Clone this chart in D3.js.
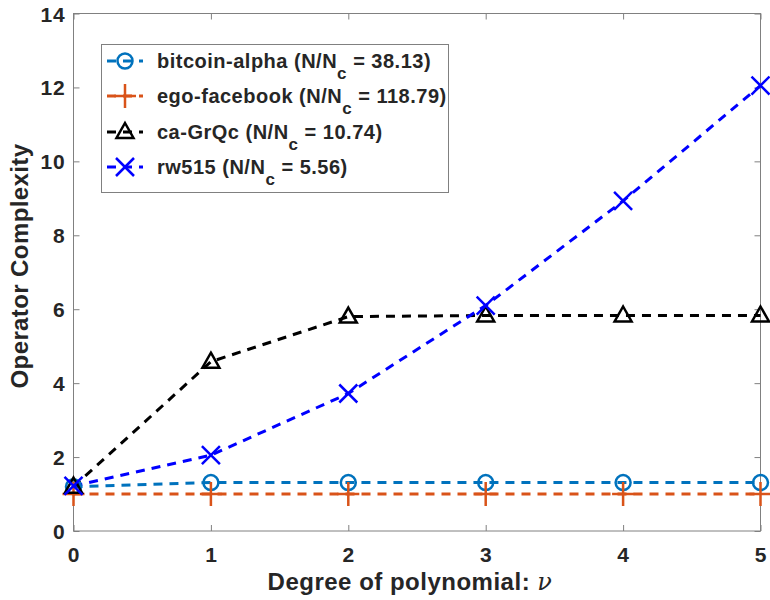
<!DOCTYPE html>
<html><head><meta charset="utf-8">
<script src="https://cdn.jsdelivr.net/npm/d3@7"></script>
<style>body{margin:0;background:#fff}svg{font-family:"Liberation Sans",Arial,sans-serif;font-weight:bold}</style>
</head><body>
<svg id="c" width="770" height="600"></svg>
<script>
const degrees = [0,1,2,3,4,5];
const bitcoinAlpha = [1.2,1.31,1.31,1.31,1.31,1.31];
const egoFacebook = [1.0,1.0,1.0,1.0,1.0,1.0];
const caGrQc = [1.2,4.58,5.8,5.83,5.83,5.83];
const rw515 = [1.22,2.05,3.72,6.1,8.93,12.05];
const seriesNames = ["bitcoin-alpha","ego-facebook","ca-GrQc","rw515"];
const ratios = ["38.13","118.79","10.74","5.56"];
const seriesColors = ["#0072BD","#D95319","#000000","#0000FF"];
const seriesMarkers = ["circle","plus","triangle","cross"];
const xTicks = [0,1,2,3,4,5];
const yTicks = [0,2,4,6,8,10,12,14];
const allSeries = [bitcoinAlpha, egoFacebook, caGrQc, rw515];

const svg = d3.select("#c");
const L=73.5,R=760.5,T=13.5,B=531;
const x = d3.scaleLinear().domain([0,5]).range([L,R]);
const y = d3.scaleLinear().domain([0,14]).range([B,T]);
const axisCol="#808080", textCol="#262626";

// frame
svg.append("rect").attr("x",L).attr("y",T).attr("width",R-L).attr("height",B-T)
  .attr("fill","none").attr("stroke",axisCol).attr("stroke-width",1);

const gx = svg.append("g").attr("transform",`translate(0,${B})`)
  .call(d3.axisBottom(x).tickValues(xTicks).tickSize(-6).tickPadding(16).tickFormat(d3.format("d")));
const gxt = svg.append("g").attr("transform",`translate(0,${T})`)
  .call(d3.axisTop(x).tickValues(xTicks).tickSize(-6).tickFormat(""));
const gy = svg.append("g").attr("transform",`translate(${L},0)`)
  .call(d3.axisLeft(y).tickValues(yTicks).tickSize(-6).tickPadding(8).tickFormat(d3.format("d")));
const gyr = svg.append("g").attr("transform",`translate(${R},0)`)
  .call(d3.axisRight(y).tickValues(yTicks).tickSize(-6).tickFormat(""));
[gx,gxt,gy,gyr].forEach(g=>{
  g.select(".domain").remove();
  g.selectAll(".tick line").attr("stroke",axisCol);
  g.selectAll("text").attr("fill",textCol).attr("font-size",21).attr("font-weight","bold")
   .attr("letter-spacing",0.8).attr("font-family","Liberation Sans, Arial, sans-serif");
});
gx.selectAll("text").attr("dy","0.71em");
gy.selectAll("text").attr("dy","0.36em");

// axis titles
svg.append("text").attr("x",410).attr("y",590).attr("text-anchor","middle")
  .attr("fill",textCol).attr("font-size",24).attr("letter-spacing",0.5)
  .text("Degree of polynomial: ").append("tspan").attr("font-style","italic").attr("font-weight","normal").attr("font-family","DejaVu Serif, serif").text("ν");
svg.append("text").attr("transform",`translate(28,266) rotate(-90)`).attr("text-anchor","middle")
  .attr("fill",textCol).attr("font-size",24).attr("letter-spacing",0.4).text("Operator Complexity");

function drawMarker(g,type,cx,cy,color){
  if(type==="circle") g.append("circle").attr("cx",cx).attr("cy",cy).attr("r",7.5).attr("fill","none").attr("stroke",color).attr("stroke-width",2.5);
  else if(type==="plus") g.append("path").attr("d",`M${cx-11},${cy}H${cx+11}M${cx},${cy-12}V${cy+12}`).attr("stroke",color).attr("stroke-width",2.5).attr("fill","none");
  else if(type==="cross") g.append("path").attr("d",`M${cx-9},${cy-9}L${cx+9},${cy+9}M${cx-9},${cy+9}L${cx+9},${cy-9}`).attr("stroke",color).attr("stroke-width",2.5).attr("fill","none");
  else if(type==="triangle") g.append("path").attr("d",`M${cx},${cy-9}L${cx+8.5},${cy+6}L${cx-8.5},${cy+6}Z`).attr("stroke",color).attr("stroke-width",2.5).attr("fill","none").attr("stroke-linejoin","miter");
}

const line = d3.line().x((d,i)=>x(degrees[i])).y(d=>y(d));
const plot = svg.append("g");
allSeries.forEach((s,k)=>{
  plot.append("path").datum(s).attr("d",line).attr("fill","none").attr("stroke",seriesColors[k])
    .attr("stroke-width",3).attr("stroke-dasharray","9,7");
});
allSeries.forEach((s,k)=>{
  s.forEach((v,i)=>drawMarker(plot,seriesMarkers[k],x(degrees[i]),y(v),seriesColors[k]));
});

// legend
const lg = svg.append("g");
lg.append("rect").attr("x",101.5).attr("y",44.5).attr("width",347).attr("height",148)
  .attr("fill","#fff").attr("stroke",axisCol).attr("stroke-width",1);
const rowsY=[61,96,132,167];
seriesNames.forEach((n,k)=>{
  const yy=rowsY[k];
  lg.append("line").attr("x1",107).attr("x2",143).attr("y1",yy).attr("y2",yy).attr("stroke",seriesColors[k]).attr("stroke-width",3).attr("stroke-dasharray","9,7");
  drawMarker(lg,seriesMarkers[k],125,yy,seriesColors[k]);
  const t = lg.append("text").attr("x",157).attr("y",yy+7).attr("fill",textCol).attr("font-size",20).attr("letter-spacing",0.5);
  t.append("tspan").text(n+" (N/N");
  t.append("tspan").attr("font-size",17).attr("dy",11).text("c");
  t.append("tspan").attr("dy",-11).text(" = "+ratios[k]+")");
});
</script>
</body></html>
